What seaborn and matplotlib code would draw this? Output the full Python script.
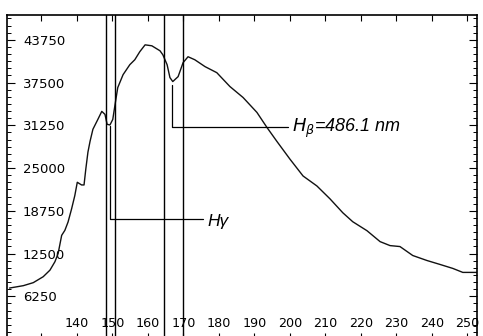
import matplotlib
matplotlib.use("Agg")
import matplotlib.pyplot as plt
import numpy as np
import pandas as pd
import seaborn as sns

# spectrum (channel vs counts)
channel = [121.0, 124.9, 127.7, 130.5, 132.4, 133.8, 134.7, 135.7, 136.6, 137.5,
           138.5, 139.4, 140.1, 141.3, 142.0, 142.5, 143.1, 143.7, 144.5, 145.9,
           147.0, 147.9, 148.5, 149.3, 150.1, 150.7, 151.5, 153.0, 154.9, 156.3,
           157.7, 159.2, 161.1, 163.4, 164.2, 165.4, 166.2, 167.0, 168.5, 169.9,
           171.3, 173.2, 176.1, 179.4, 183.1, 186.8, 190.7, 193.5, 196.3, 200.0,
           203.7, 207.6, 211.3, 214.9, 217.7, 221.7, 225.4, 228.2, 231.0, 234.6,
           238.6, 242.3, 245.9, 248.7, 252.7]
counts = [7450, 7800, 8240, 9110, 10070, 11300, 12500, 15160, 15890, 17110,
          19040, 20970, 22920, 22530, 22530, 24850, 27330, 28920, 30670, 32120,
          33290, 32850, 31400, 31300, 32120, 34160, 36770, 38660, 40120, 40840,
          42010, 43020, 42880, 42150, 41570, 40120, 38230, 37650, 38370, 40410,
          41280, 40840, 39830, 38950, 36920, 35320, 33140, 30960, 28920, 26310,
          23840, 22380, 20490, 18460, 17150, 15840, 14240, 13660, 13520, 12210,
          11480, 10900, 10320, 9740, 9740]

ytick_vals = [6250, 12500, 18750, 25000, 31250, 37500, 43750]
xtick_vals = [130, 140, 150, 160, 170, 180, 190, 200, 210, 220, 230, 240, 250]
xtick_labels = [""] + [str(v) for v in xtick_vals[1:]]

# window lines around the two lines
gamma_window = [148.3, 150.6]
beta_window = [164.6, 170.0]

sns.set_style("white")

df = pd.DataFrame({"channel": channel, "counts": counts})

fig = plt.figure(figsize=(4.83, 3.36), dpi=100)
ax = fig.add_axes([7 / 483, -3 / 336, 470 / 483, 324 / 336])

sns.lineplot(data=df, x="channel", y="counts", ax=ax, color="#111111", linewidth=1.0)

for xv in gamma_window + beta_window:
    ax.axvline(xv, color="black", linewidth=1.0)

# H-beta pointer
ax.plot([166.8, 166.8, 199.4], [37200, 30960, 30960], color="black", linewidth=0.9)
ax.text(200.6, 30230, r"$H_{\beta}$" + "=486.1 nm", fontsize=13, style="italic",
        family="Liberation Sans", va="baseline", ha="left", color="black")

# H-gamma pointer
ax.plot([149.3, 149.3, 175.5], [31100, 17590, 17590], color="black", linewidth=0.9)
ax.text(176.9, 16570, "H\u03b3", fontsize=12.5, style="italic",
        family="Liberation Sans", va="baseline", ha="left", color="black")

ax.set_xlim(120.3, 252.7)
ax.set_ylim(290, 47384)
ax.set_xlabel("")
ax.set_ylabel("")

ax.set_yticks(ytick_vals)
ax.set_yticklabels([str(v) for v in ytick_vals])
ax.set_yticks(np.arange(0, 47384, 6250 / 6), minor=True)
ax.set_xticks(xtick_vals)
ax.set_xticklabels(xtick_labels)

ax.tick_params(axis="y", which="major", direction="in", length=5.8, width=0.8,
               left=True, right=True, labelsize=9.5, pad=-11.5, colors="black")
ax.tick_params(axis="y", which="minor", direction="in", length=2.9, width=0.7,
               left=True, right=True, colors="black")
ax.tick_params(axis="x", which="major", direction="in", length=4.3, width=0.8,
               bottom=True, top=True, labelsize=9.2, pad=-8.6, colors="black")
for lab in ax.get_yticklabels():
    lab.set_horizontalalignment("left")
for lab in ax.get_xticklabels():
    lab.set_verticalalignment("baseline")

for side in ["top", "left", "right", "bottom"]:
    ax.spines[side].set_color("black")
    ax.spines[side].set_linewidth(1.2)

plt.savefig("out.png", dpi=100)
plt.close()
